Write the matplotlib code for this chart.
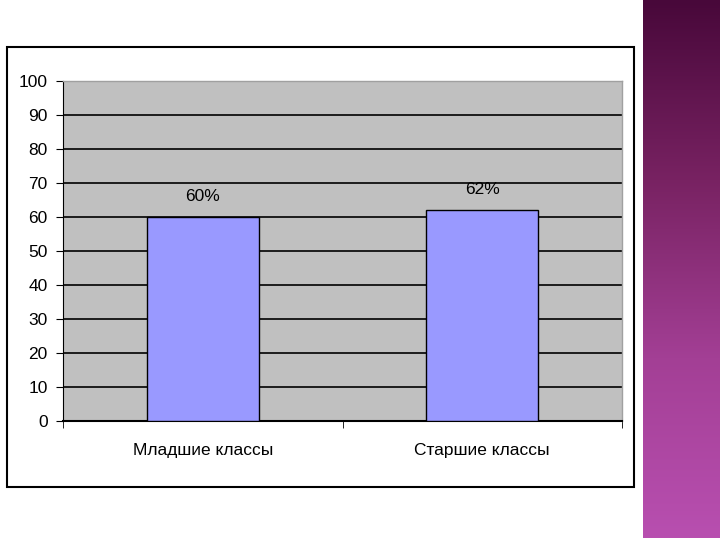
import matplotlib

matplotlib.use("Agg")
import matplotlib.pyplot as plt
import numpy as np
from matplotlib.colors import LinearSegmentedColormap
from matplotlib.patches import Rectangle

categories = ["Младшие классы", "Старшие классы"]
values = [60, 62]
bar_labels = ["60%", "62%"]
y_ticks = [0, 10, 20, 30, 40, 50, 60, 70, 80, 90, 100]

plt.rcParams["font.family"] = ["Liberation Sans", "DejaVu Sans"]

W, H = 720, 540
fig = plt.figure(figsize=(W / 100, H / 100), dpi=100)
fig.patch.set_facecolor("white")

# purple decorative strip on the right of the slide
strip = fig.add_axes([643 / W, 2 / H, 77 / W, 538 / H])
cmap = LinearSegmentedColormap.from_list("slide", ["#48083a", "#782262", "#a33f95", "#b84fb0"])
grad = np.linspace(0, 1, 256).reshape(-1, 1)
strip.imshow(grad, aspect="auto", cmap=cmap, origin="upper")
strip.set_axis_off()

# chart frame
fig.patches.append(Rectangle((7 / W, 1 - 487 / H), 627 / W, 440 / H,
                             transform=fig.transFigure, fill=False,
                             edgecolor="black", linewidth=1.5))

ax = fig.add_axes([63 / W, 1 - 421 / H, 559 / W, 340 / H])
ax.set_facecolor("#c0c0c0")
x = np.arange(len(categories))
ax.bar(x, values, width=0.4, color="#9999ff", edgecolor="black", linewidth=1, zorder=3)
for xi, v, lab in zip(x, values, bar_labels):
    ax.text(xi, v + 3.8, lab, ha="center", va="bottom", fontsize=12.5, zorder=4)

ax.set_xlim(-0.5, len(categories) - 0.5)
ax.set_ylim(0, 100)
ax.set_yticks(y_ticks)
ax.set_yticklabels([str(t) for t in y_ticks], fontsize=12.5)
ax.yaxis.grid(True, color="black", linewidth=1.2, zorder=1)
ax.set_axisbelow(True)

ax.set_xticks(x)
ax.set_xticklabels(categories, fontsize=12.5)
ax.tick_params(axis="x", length=0, pad=16)
ax.set_xticks([-0.5, 0.5, 1.5], minor=True)
ax.tick_params(axis="x", which="minor", length=5, direction="out")
ax.tick_params(axis="y", length=5, direction="out", pad=6)

for side in ("top", "right"):
    ax.spines[side].set_color("#a0a0a0")
    ax.spines[side].set_linewidth(1)
ax.spines["left"].set_color("black")
ax.spines["bottom"].set_color("black")
ax.spines["bottom"].set_linewidth(1.5)

fig.savefig("out.png", dpi=100)
